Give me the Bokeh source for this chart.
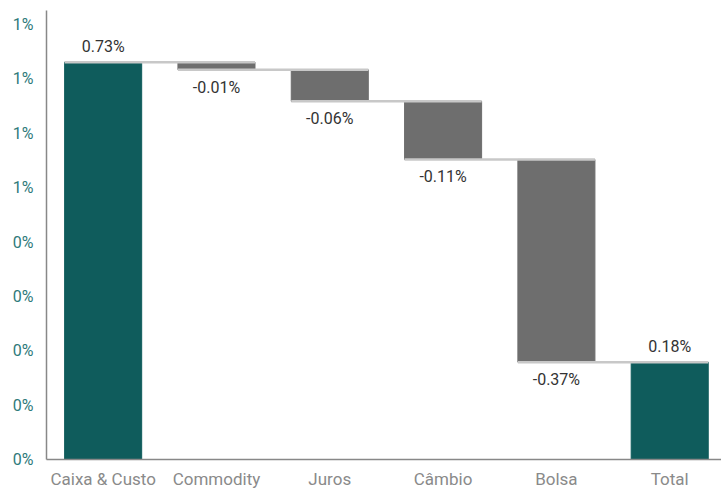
from bokeh.plotting import figure
from bokeh.models import ColumnDataSource, FixedTicker, Range1d, LabelSet
from bokeh.core.properties import value
from bokeh.embed import file_html
from bokeh.resources import INLINE

categories = ["Caixa & Custo", "Commodity", "Juros", "Câmbio", "Bolsa", "Total"]
changes = [0.731, -0.014, -0.058, -0.107, -0.373]
y_ticks = [0.0, 0.1, 0.2, 0.3, 0.4, 0.5, 0.6, 0.7, 0.8]
y_tick_labels = ["0%", "0%", "0%", "0%", "0%", "1%", "1%", "1%", "1%"]

TEAL = "#0F5C5C"
GRAY = "#6E6E6E"
CONN = "#C8C8C8"
FONT = "Roboto"

# build waterfall
total = sum(changes)
values = changes + [total]
bottoms, tops, colors, labels = [], [], [], []
running = 0.0
for i, v in enumerate(values):
    if i == 0:
        b, t = 0.0, v
        running = v
        colors.append(TEAL)
    elif i == len(values) - 1:
        b, t = 0.0, v
        colors.append(TEAL)
    else:
        b, t = running + v, running
        running = running + v
        colors.append(GRAY)
    bottoms.append(b)
    tops.append(t)
    labels.append(f"{v:.2f}%")

xs = list(range(len(values)))
src = ColumnDataSource(dict(x=xs, bottom=bottoms, top=tops, color=colors))

pos_idx = [i for i, v in enumerate(values) if v >= 0]
neg_idx = [i for i, v in enumerate(values) if v < 0]
pos_src = ColumnDataSource(dict(x=[xs[i] for i in pos_idx], y=[tops[i] for i in pos_idx],
                                label=[labels[i] for i in pos_idx]))
neg_src = ColumnDataSource(dict(x=[xs[i] for i in neg_idx], y=[bottoms[i] for i in neg_idx],
                                label=[labels[i] for i in neg_idx]))

# connectors: end level of each bar, from its left edge to next bar's right edge
w = 0.68
cx0, cx1, cy = [], [], []
ends = [tops[0]] + bottoms[1:-1]
for i in range(len(values) - 1):
    cx0.append(i - w / 2)
    cx1.append(i + 1 + w / 2)
    cy.append(ends[i])
csrc = ColumnDataSource(dict(x0=cx0, x1=cx1, y=cy))

p = figure(width=721, height=492, output_backend="svg", toolbar_location=None,
           x_range=Range1d(-0.5, 5.457), y_range=Range1d(0, 0.826),
           min_border_left=46, min_border_right=0, min_border_top=10, min_border_bottom=33)
p.outline_line_color = None
p.grid.visible = False

p.vbar(x="x", bottom="bottom", top="top", width=w, color="color", source=src)
p.segment(x0="x0", x1="x1", y0="y", y1="y", line_color=CONN, line_width=2.5, source=csrc)

p.add_layout(LabelSet(x="x", y="y", text="label", y_offset=6, source=pos_src,
                      text_align="center", text_baseline="bottom",
                      text_font=value(FONT), text_font_size="16px", text_color="#333333"))
p.add_layout(LabelSet(x="x", y="y", text="label", y_offset=-8, source=neg_src,
                      text_align="center", text_baseline="top",
                      text_font=value(FONT), text_font_size="16px", text_color="#333333"))

p.xaxis.ticker = FixedTicker(ticks=xs)
p.xaxis.major_label_overrides = {i: c for i, c in enumerate(categories)}
p.yaxis.ticker = FixedTicker(ticks=y_ticks)
p.yaxis.major_label_overrides = {t: l for t, l in zip(y_ticks, y_tick_labels)}

for ax in (p.xaxis, p.yaxis):
    ax.major_tick_line_color = None
    ax.minor_tick_line_color = None
    ax.major_tick_out = 0
    ax.major_tick_in = 0
    ax.minor_tick_out = 0
    ax.minor_tick_in = 0
    ax.axis_line_color = "#888888"
    ax.axis_line_width = 1.5
    ax.major_label_text_font = FONT
p.xaxis.major_label_text_font_size = "17px"
p.yaxis.major_label_text_font_size = "16px"
p.xaxis.major_label_text_color = "#8A8A8A"
p.yaxis.major_label_text_color = "#2E7A7A"
p.xaxis.major_label_standoff = 9
p.yaxis.major_label_standoff = 13

open("out.html", "w").write(file_html(p, INLINE))
